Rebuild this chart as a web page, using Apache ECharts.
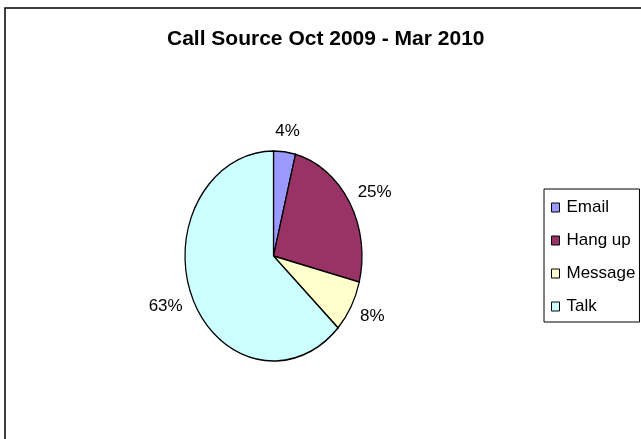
<!DOCTYPE html>
<html>
<head>
<meta charset="utf-8">
<script src="https://cdn.jsdelivr.net/npm/echarts@6/dist/echarts.min.js"></script>
<style>
html,body{margin:0;padding:0;background:#fff;}
#chart{width:641px;height:439px;}
</style>
</head>
<body>
<div id="chart"></div>
<script>
const chartTitle = 'Call Source Oct 2009 - Mar 2010';
const categories = ['Email', 'Hang up', 'Message', 'Talk'];
const values = [4, 25, 8, 63];
const colors = ['#9999FF', '#993366', '#FFFFCC', '#CCFFFF'];

const FONT = 'Liberation Sans, Arial, sans-serif';
const CX = 273.5, CY = 256, RX = 88.5, RY = 105;
const LABEL_SIZE = 17;
const total = values.reduce((a, b) => a + b, 0);

const measureCtx = document.createElement('canvas').getContext('2d');
function textWidth(t, size) {
  measureCtx.font = size + 'px ' + FONT;
  return measureCtx.measureText(t).width;
}

function makeRender(i) {
  return function (params, api) {
    let start = 0;
    for (let k = 0; k < i; k++) start += values[k];
    const a0 = -Math.PI / 2 + start / total * Math.PI * 2;
    const a1 = a0 + values[i] / total * Math.PI * 2;
    const mid = (start + values[i] / 2) / total * Math.PI * 2; // from top, clockwise
    const s = Math.sin(mid), c = Math.cos(mid);
    const txt = Math.round(values[i] / total * 100) + '%';
    const w = textWidth(txt, LABEL_SIZE), h = LABEL_SIZE;
    const d = 12;
    const px = CX + RX * s + d * s + (w / 2) * s;
    const py = CY - RY * c - d * c - (h / 2) * c;
    return {
      type: 'group',
      children: [
        {
          type: 'sector',
          shape: { cx: CX, cy: CY, r0: 0, r: RY, startAngle: a0, endAngle: a1, clockwise: true },
          scaleX: RX / RY,
          originX: CX,
          originY: CY,
          style: { fill: colors[i], stroke: '#000', lineWidth: 1.5, strokeNoScale: true }
        },
        {
          type: 'text',
          x: px,
          y: py,
          style: {
            text: txt,
            fontSize: LABEL_SIZE,
            fontFamily: FONT,
            fill: '#000',
            align: 'center',
            verticalAlign: 'middle'
          }
        }
      ]
    };
  };
}

const chart = echarts.init(document.getElementById('chart'), null, { renderer: 'canvas' });
chart.setOption({
  animation: false,
  backgroundColor: '#fff',
  color: colors,
  title: {
    text: chartTitle,
    left: 167,
    top: 29,
    padding: 0,
    textStyle: { fontSize: 21, fontWeight: 'bold', fontFamily: FONT, color: '#000' }
  },
  legend: {
    orient: 'vertical',
    left: 544,
    top: 189,
    padding: [10, 4, 7, 7],
    itemGap: 16,
    itemWidth: 8,
    itemHeight: 9,
    icon: 'rect',
    borderColor: '#000',
    borderWidth: 1,
    data: categories,
    itemStyle: { borderColor: '#000', borderWidth: 1 },
    textStyle: { fontSize: LABEL_SIZE, fontFamily: FONT, color: '#000', padding: [0, 0, 0, 2] }
  },
  graphic: [
    {
      type: 'rect',
      shape: { x: 5, y: 8, width: 800, height: 600 },
      style: { fill: 'none', stroke: '#000', lineWidth: 1.5 },
      silent: true
    }
  ],
  series: categories.map((name, i) => ({
    type: 'custom',
    name: name,
    coordinateSystem: 'none',
    renderItem: makeRender(i),
    data: [[values[i]]]
  }))
});
</script>
</body>
</html>
